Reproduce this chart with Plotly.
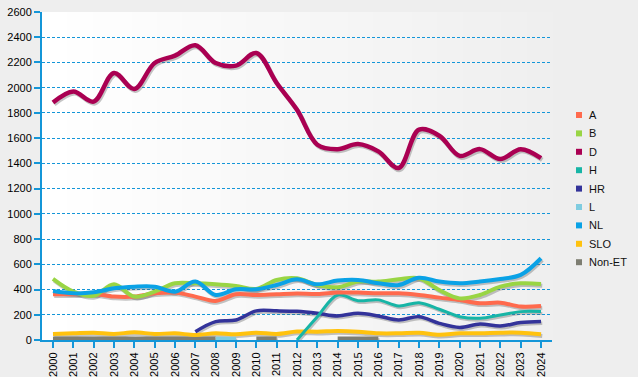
import plotly.graph_objects as go

years = list(range(2000, 2025))
year_labels = [str(y) for y in years]

A = [363, 363, 365, 344, 344, 370, 376, 344, 310, 363, 357, 363, 369, 365, 376, 376, 370, 370, 357, 336, 317, 291, 296, 265, 270]
B = [484, 383, 350, 442, 344, 383, 450, 450, 442, 428, 405, 476, 489, 436, 418, 463, 463, 481, 489, 396, 330, 357, 423, 449, 444]
D = [1882, 1970, 1890, 2116, 1990, 2196, 2254, 2336, 2196, 2175, 2275, 2037, 1825, 1548, 1513, 1553, 1495, 1363, 1667, 1619, 1460, 1513, 1434, 1513, 1442]
H = [None] * 12 + [0, 185, 357, 312, 318, 270, 296, 244, 185, 172, 198, 225, 225]
HR = [None] * 7 + [66, 146, 159, 231, 231, 227, 212, 191, 212, 191, 159, 185, 132, 100, 127, 111, 138, 146]
L = [None] * 8 + [10, 10] + [None] * 15
NL = [388, 370, 378, 410, 423, 423, 383, 463, 357, 402, 402, 436, 481, 442, 471, 476, 450, 436, 494, 463, 450, 463, 484, 516, 648]
SLO = [48, 53, 58, 48, 61, 48, 53, 40, 53, 45, 58, 48, 67, 66, 71, 66, 53, 53, 58, 42, 53, 53, 58, 58, 45]
NonET = [12] * 9 + [None, 12, 12, None, None, 12, 12, 12] + [None] * 8

series = [
    ("A", A, "#FF6A4D", 4),
    ("B", B, "#99D544", 4),
    ("D", D, "#AA0052", 4.5),
    ("H", H, "#17B5A6", 3),
    ("HR", HR, "#33339A", 3.5),
    ("L", L, "#7FCCE0", 4),
    ("NL", NL, "#0AA2E6", 4),
    ("SLO", SLO, "#FFC20E", 4),
    ("Non-ET", NonET, "#7E7E72", 4),
]

fig = go.Figure()

# shadows
for name, vals, color, w in series:
    fig.add_trace(go.Scatter(
        x=[y + 0.06 for y in years],
        y=[None if v is None else v - 14 for v in vals],
        mode="lines", line=dict(color="rgba(90,90,90,0.35)", width=w, shape="spline", smoothing=1.0),
        showlegend=False, hoverinfo="skip", connectgaps=False, cliponaxis=False))

order = ["Non-ET", "L", "SLO", "HR", "H", "A", "B", "NL", "D"]
lookup = {s[0]: s for s in series}
for name in order:
    _, vals, color, w = lookup[name]
    fig.add_trace(go.Scatter(
        x=years, y=vals, name=name, mode="lines",
        line=dict(color=color, width=w, shape="spline", smoothing=1.0),
        showlegend=False, connectgaps=False, cliponaxis=False))

L_PX, R_PX, T_PX, B_PX = 42, 552, 12, 340
W = 638
H_ = 377

def px_x(px):
    return (px - L_PX) / (R_PX - L_PX)

def px_y(py):
    return (B_PX - py) / (B_PX - T_PX)

FONT = "Liberation Sans"

shapes = []
# gradient plot background
n = 40
for i in range(n):
    t = i / (n - 1)
    c = int(round(255 - t * 16))
    shapes.append(dict(type="rect", xref="paper", yref="paper", x0=i / n, x1=(i + 1) / n + 0.002,
                       y0=0, y1=1, fillcolor=f"rgb({c},{c},{c})", line=dict(width=0), layer="below"))

annotations = []
for i, (name, vals, color, w) in enumerate(series):
    cy = 115 + 18.4 * i
    shapes.append(dict(type="rect", xref="paper", yref="paper",
                       x0=px_x(576), x1=px_x(582), y0=px_y(cy + 3), y1=px_y(cy - 3),
                       fillcolor=color, line=dict(width=0)))
    annotations.append(dict(text=name, xref="paper", yref="paper", x=px_x(587), y=px_y(cy),
                            xanchor="left", yanchor="middle", showarrow=False,
                            font=dict(family=FONT, size=11, color="#111111")))

axis_blue = "#1496D8"
fig.update_layout(
    width=W, height=H_,
    margin=dict(l=L_PX, r=W - R_PX, t=T_PX, b=H_ - B_PX, autoexpand=False),
    paper_bgcolor="#EEEEEE", plot_bgcolor="rgba(0,0,0,0)",
    font=dict(family=FONT, size=11, color="#000000"),
    shapes=shapes, annotations=annotations, showlegend=False,
    xaxis=dict(range=[1999.46, 2024.54], tickmode="array", tickvals=years, ticktext=year_labels,
               tickangle=-90, showgrid=False, zeroline=False, showline=True, linecolor=axis_blue,
               linewidth=2, ticks="outside", ticklen=6, tickcolor=axis_blue, tickwidth=1.5,
               tickfont=dict(size=11, family=FONT), automargin=False, layer="below traces"),
    yaxis=dict(range=[0, 2600], tickmode="linear", tick0=0, dtick=200, showgrid=True,
               gridcolor=axis_blue, griddash="3px,2px", gridwidth=1, zeroline=False,
               showline=True, linecolor=axis_blue, linewidth=2, ticks="outside", ticklen=6,
               tickcolor=axis_blue, tickwidth=1.5, tickfont=dict(size=11, family=FONT),
               automargin=False, layer="below traces"),
)

fig.write_html("out.html", config={"displayModeBar": False},
               post_script="document.body.style.margin='0';document.body.style.background='#EEEEEE';")
